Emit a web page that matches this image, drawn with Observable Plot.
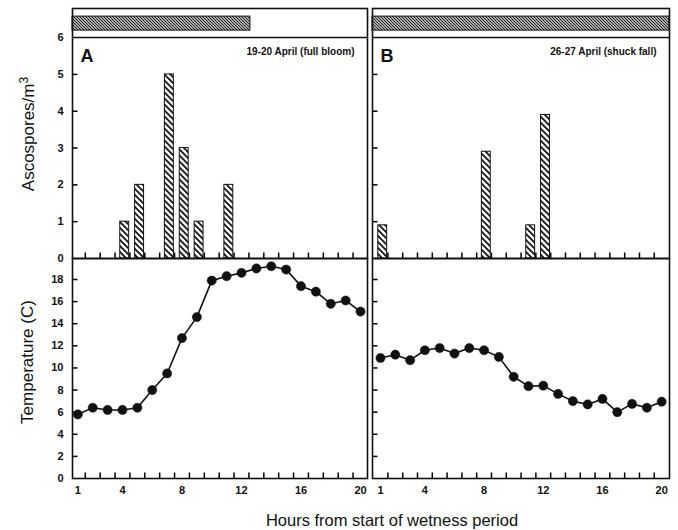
<!DOCTYPE html>
<html>
<head>
<meta charset="utf-8">
<script src="https://cdn.jsdelivr.net/npm/d3@7"></script>
<script src="https://cdn.jsdelivr.net/npm/@observablehq/plot@0.6"></script>
<style>
  body { margin: 0; background: #fff; }
  #chart { position: relative; width: 678px; height: 530px; background: #fff; font-family: "Liberation Sans", Arial, sans-serif; color: #111; }
  #chart svg { position: absolute; background: transparent !important; overflow: visible; }
  .lbl { position: absolute; white-space: nowrap; font-size: 17px; color: #111; }
  .rot { transform: translate(-50%, -50%) rotate(-90deg); }
</style>
</head>
<body>
<div id="chart"></div>
<script>
// ---------- data ----------
const hours = [1,2,3,4,5,6,7,8,9,10,11,12,13,14,15,16,17,18,19,20];
const tempA = [5.8,6.4,6.2,6.2,6.4,8.0,9.5,12.7,14.6,17.9,18.3,18.6,19.0,19.2,18.9,17.4,16.9,15.8,16.1,15.1];
const tempB = [10.9,11.2,10.7,11.6,11.8,11.3,11.8,11.6,11.0,9.2,8.35,8.4,7.65,7.0,6.7,7.2,6.0,6.75,6.4,6.95];
const sporeHoursA = [4,5,7,8,9,11];
const sporeValsA = [1,2,5,3,1,2];
const sporeHoursB = [1,8,11,12];
const sporeValsB = [0.9,2.9,0.9,3.9];
const wetEnd = {A: 12.6, B: 20.6};
const panelTitles = {A: "19-20 April (full bloom)", B: "26-27 April (shuck fall)"};
const xTickLabels = [1,4,8,12,16,20];
const sporeTickLabels = [0,1,2,3,4,5,6];
const tempTickLabels = [0,2,4,6,8,10,12,14,16,18];

const chart = document.getElementById("chart");
const ink = "#111";
const minorX = hours.slice(0, 19).map(h => h + 0.5);
const TICK = 5.5; // inward tick length in px

function addPatterns(svg, id) {
  const defs = d3.select(svg).insert("defs", ":first-child");
  const p1 = defs.append("pattern").attr("id", id + "-hatch").attr("patternUnits", "userSpaceOnUse")
    .attr("width", 6).attr("height", 6);
  p1.append("rect").attr("width", 6).attr("height", 6).attr("fill", "#fff");
  p1.append("path").attr("d", "M-1,-1L7,7M-1,5L1,7M5,-1L7,1").attr("stroke", ink).attr("stroke-width", 1.7);
  const p2 = defs.append("pattern").attr("id", id + "-dense").attr("patternUnits", "userSpaceOnUse")
    .attr("width", 3).attr("height", 3);
  p2.append("rect").attr("width", 3).attr("height", 3).attr("fill", "#ddd");
  p2.append("path").attr("d", "M-1,-1L4,4M-1,2L1,4M2,-1L4,1").attr("stroke", "#222").attr("stroke-width", 1.1);
}

function place(svg, left, top) {
  svg.style.left = left + "px";
  svg.style.top = top + "px";
  chart.appendChild(svg);
}

// inward tick marks as short rules; length converted from px to data units
function tickMarks(xDomain, yDomain, yTicks, plotW, plotH) {
  const dy = TICK * (yDomain[1] - yDomain[0]) / plotH;
  const dx = TICK * (xDomain[1] - xDomain[0]) / plotW;
  return [
    Plot.ruleX(minorX.filter(v => v > xDomain[0] && v < xDomain[1]), {x: d => d, y1: yDomain[0], y2: yDomain[0] + dy, stroke: "#000", strokeWidth: 1.5}),
    Plot.ruleY(yTicks, {y: d => d, x1: xDomain[0], x2: xDomain[0] + dx, stroke: "#000", strokeWidth: 1.5})
  ];
}

function topPanel(id, xDomain, sHours, sVals, left, width, mL, mR, showLabels) {
  const bars = sHours.map((h, i) => ({hour: h, value: sVals[i]}));
  const wet = [{x1: xDomain[0], x2: Math.min(wetEnd[id], xDomain[1])}];
  const H = 259, mT = 8, mB = 1;
  const yDomain = [0, 6.79];
  const marks = [
    Plot.rect(wet, {x1: "x1", x2: "x2", y1: 6.19, y2: 6.57, fill: `url(#${id}-dense)`, stroke: ink, strokeWidth: 1}),
    Plot.ruleY([6], {stroke: ink, strokeWidth: 1.5}),
    Plot.rectY(bars, {x1: d => d.hour - 0.15, x2: d => d.hour + 0.45, y1: 0, y2: "value",
      fill: `url(#${id}-hatch)`, stroke: ink, strokeWidth: 1}),
    ...tickMarks(xDomain, yDomain, [1,2,3,4,5], width - mL - mR, H - mT - mB),
    Plot.frame({stroke: ink, strokeWidth: 1.6}),
    Plot.text([id], {frameAnchor: "top-left", dx: 8, dy: 48, text: d => d, fontSize: 18, fontWeight: "bold",
      textAnchor: "start", lineAnchor: "middle", fill: ink}),
    Plot.text([panelTitles[id]], {frameAnchor: "top-right", dx: -13, dy: 43, text: d => d, fontSize: 10,
      fontWeight: "bold", textAnchor: "end", lineAnchor: "middle", fill: ink, style: "letter-spacing:-0.4px"})
  ];
  if (showLabels) marks.push(Plot.axisY({ticks: sporeTickLabels, tickSize: 0, tickPadding: 9, tickFormat: d => d,
    label: null, fontSize: 11, fontWeight: "bold", fill: ink}));
  else marks.push(Plot.axisY({ticks: [], label: null}));
  marks.push(Plot.axisX({ticks: [], label: null}));
  const svg = Plot.plot({
    width, height: H, marginTop: mT, marginBottom: mB, marginLeft: mL, marginRight: mR,
    style: {fontFamily: "'Liberation Sans', Arial, sans-serif", background: "transparent", color: ink},
    x: {domain: xDomain, label: null},
    y: {domain: yDomain, label: null},
    marks
  });
  addPatterns(svg, id);
  place(svg, left, 0);
}

function bottomPanel(id, xDomain, temps, left, width, mL, mR, showLabels) {
  const pts = hours.map((h, i) => ({hour: h, t: temps[i]}));
  const H = 243, mT = 1, mB = 22;
  const yDomain = [0, 19.9];
  const marks = [
    ...tickMarks(xDomain, yDomain, tempTickLabels.slice(1), width - mL - mR, H - mT - mB),
    Plot.axisX({ticks: xTickLabels, tickSize: 0, tickPadding: 8, tickFormat: d => d, label: null,
      fontSize: 11, fontWeight: "bold", fill: ink}),
    Plot.line(pts, {x: "hour", y: "t", stroke: ink, strokeWidth: 1.6}),
    Plot.dot(pts, {x: "hour", y: "t", r: 4.6, fill: ink, stroke: ink, strokeWidth: 0.5}),
    Plot.frame({stroke: ink, strokeWidth: 1.6})
  ];
  if (showLabels) marks.push(Plot.axisY({ticks: tempTickLabels, tickSize: 0, tickPadding: 9, tickFormat: d => d,
    label: null, fontSize: 11, fontWeight: "bold", fill: ink}));
  else marks.push(Plot.axisY({ticks: [], label: null}));
  const svg = Plot.plot({
    width, height: H, marginTop: mT, marginBottom: mB, marginLeft: mL, marginRight: mR,
    style: {fontFamily: "'Liberation Sans', Arial, sans-serif", background: "transparent", color: ink},
    x: {domain: xDomain, label: null},
    y: {domain: yDomain, label: null},
    marks
  });
  place(svg, left, 257);
}

const domA = [0.64, 20.47];
const domB = [0.46, 20.53];
topPanel("A", domA, sporeHoursA, sporeValsA, 0, 368, 72, 1, true);
topPanel("B", domB, sporeHoursB, sporeValsB, 370, 301, 2, 2, false);
bottomPanel("A", domA, tempA, 0, 368, 72, 1, true);
bottomPanel("B", domB, tempB, 370, 301, 2, 2, false);

// axis titles
function label(html, x, y, rotate, size) {
  const d = document.createElement("div");
  d.className = "lbl" + (rotate ? " rot" : "");
  d.innerHTML = html;
  d.style.left = x + "px";
  d.style.top = y + "px";
  if (size) d.style.fontSize = size + "px";
  if (!rotate) d.style.transform = "translate(-50%, -50%)";
  chart.appendChild(d);
}
label("Ascospores/m<sup style='font-size:12px'>3</sup>", 28, 134, true, 17);
label("Temperature (C)", 28, 362, true, 17);
label("Hours from start of wetness period", 392, 520, false, 16.5);
</script>
</body>
</html>
